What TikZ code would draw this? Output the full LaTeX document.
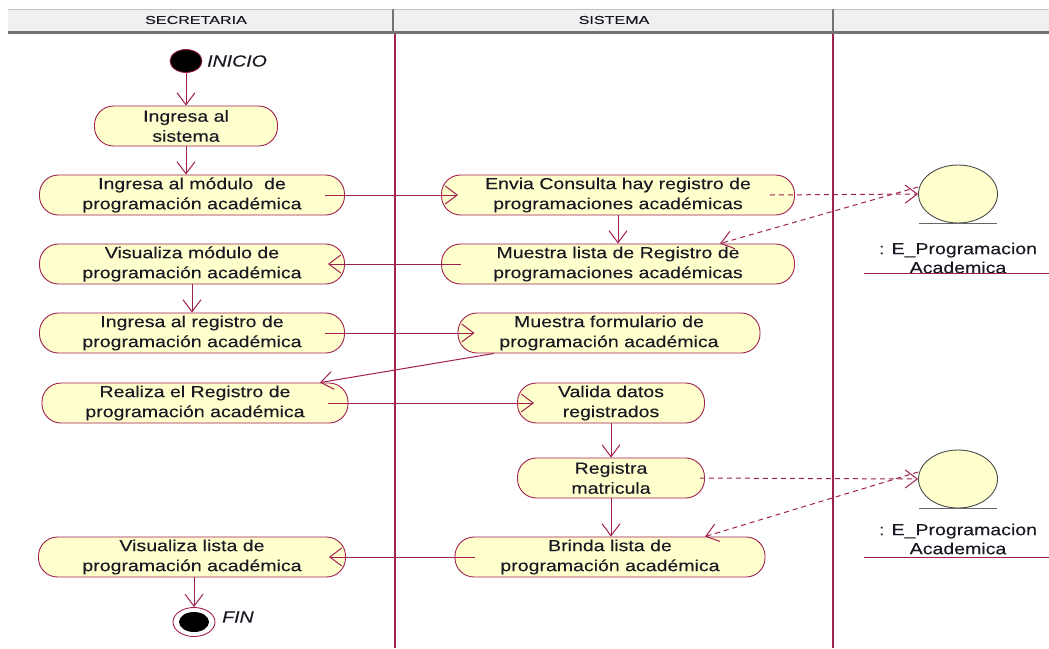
\documentclass[tikz,border=0pt]{standalone}
\usepackage{fontspec}
\setmainfont{Liberation Sans}
\newfontfamily\actfam[FakeStretch=1.22,FakeBold=0.15]{Liberation Sans}
\newfontfamily\hdrfam[FakeStretch=1.4,FakeBold=0.2]{Liberation Sans}
\usetikzlibrary{arrows.meta,shapes.geometric,calc}
\definecolor{lc}{RGB}{160,32,80}
\definecolor{yfill}{RGB}{255,255,206}
\definecolor{txt}{RGB}{25,25,35}
\definecolor{hdrfill}{RGB}{240,240,240}
\tikzset{
  act/.style={draw=lc, line width=0.9pt, fill=yfill, rounded corners=19pt,
    minimum height=40pt, inner sep=0pt, align=center, text=txt,
    font=\actfam\fontsize{16}{20}\selectfont},
  arr/.style={draw=lc, line width=1pt, -{Straight Barb[length=12pt,width=18pt,line width=1pt]}},
  harr/.style={arr, shorten >=-17pt},
  darr/.style={arr, dash pattern=on 5pt off 4pt},
  objc/.style={ellipse, draw=black!70, line width=0.9pt, fill=yfill, minimum width=79pt, minimum height=58pt, inner sep=0pt},
  objl/.style={align=center, text=txt, font=\actfam\fontsize{16}{19}\selectfont, inner sep=0pt},
  hdr/.style={font=\hdrfam\fontsize{11.5}{13}\selectfont, text=txt, inner sep=0pt},
  lbl/.style={font=\actfam\itshape\fontsize{16}{20}\selectfont, text=txt, inner sep=0pt, anchor=west},
}
\begin{document}
\begin{tikzpicture}[x=1pt,y=-1pt]
\useasboundingbox (0,0) rectangle (1049,648);
\fill[white] (0,0) rectangle (1049,648);
% header
\fill[hdrfill] (8,9) rectangle (1049,31);
\draw[black!25, line width=0.8pt] (8,9) -- (1049,9);
\draw[black!55, line width=1.5pt] (393,9) -- (393,31);
\draw[black!55, line width=1.5pt] (833,9) -- (833,31);
\draw[black!55, line width=3pt] (8,32) -- (1049,32);
\node[hdr] (h1) at (196,20) {SECRETARIA};
\node[hdr] (h2) at (614,20) {SISTEMA};
% lanes
\draw[lc, line width=1.2pt] (395,34) -- (395,648);
\draw[lc, line width=1.2pt] (833,34) -- (833,648);
% start / end
\node[ellipse, draw=lc, fill=black, line width=0.8pt, minimum width=32pt, minimum height=23pt, inner sep=0pt] (start) at (186,61) {};
\node[lbl] (startl) at (207,61) {INICIO};
\node[ellipse, draw=lc, fill=white, line width=0.9pt, minimum width=42pt, minimum height=29pt, inner sep=0pt] (fin) at (194,622) {};
\node[ellipse, fill=black, minimum width=30pt, minimum height=20pt, inner sep=0pt] (fini) at (194,622) {};
\node[lbl] (finl) at (222,617) {FIN};
% activities
\node[act, minimum width=183pt] (is) at (186,126) {Ingresa al\\sistema};
\node[act, minimum width=305pt] (im) at (192,195) {Ingresa al m\'odulo\ \ de\\programaci\'on acad\'emica};
\node[act, minimum width=353pt] (ec) at (618,195) {Envia Consulta hay registro de\\programaciones acad\'emicas};
\node[act, minimum width=353pt] (ml) at (618,264) {Muestra lista de Registro de\\programaciones acad\'emicas};
\node[act, minimum width=305pt] (vm) at (192,264) {Visualiza m\'odulo de\\programaci\'on acad\'emica};
\node[act, minimum width=305pt] (ir) at (192,333) {Ingresa al registro de\\programaci\'on acad\'emica};
\node[act, minimum width=302pt] (mf) at (609,333) {Muestra formulario de\\programaci\'on acad\'emica};
\node[act, minimum width=306pt] (rr) at (195,403) {Realiza el Registro de\\programaci\'on acad\'emica};
\node[act, minimum width=187pt] (vd) at (611,403) {Valida datos\\registrados};
\node[act, minimum width=187pt] (rm) at (611,478) {Registra\\matricula};
\node[act, minimum width=310pt] (bl) at (610,557) {Brinda lista de\\programaci\'on acad\'emica};
\node[act, minimum width=307pt] (vl) at (192,557) {Visualiza lista de\\programaci\'on acad\'emica};
% objects
\node[objc] (o1) at (958,194) {};
\draw[black!60, line width=1pt] ($(o1.south)+(-39,0)$) -- ($(o1.south)+(39,0)$);
\node[objl] (o1l) at (958,258) {: E\_Programacion\\Academica};
\draw[lc, line width=1pt] (864,273) -- (1049,273);
\node[objc] (o2) at (958,479) {};
\draw[black!60, line width=1pt] ($(o2.south)+(-39,0)$) -- ($(o2.south)+(39,0)$);
\node[objl] (o2l) at (958,539) {: E\_Programacion\\Academica};
\draw[lc, line width=1pt] (864,557) -- (1049,557);
% flows
\draw[arr] (start.south) -- (is.north);
\draw[arr] (is.south) -- (is.south |- im.north);
\draw[harr] ([xshift=-20pt]im.east) -- (ec.west);
\draw[arr] (ec.south) -- (ml.north);
\draw[harr] ([xshift=20pt]ml.west) -- (vm.east);
\draw[arr] (vm.south) -- (ir.north);
\draw[harr] ([xshift=-20pt]ir.east) -- (mf.west);
\draw[arr] ([xshift=-115pt]mf.south) -- ([xshift=125pt]rr.north);
\draw[harr] ([xshift=-20pt]rr.east) -- (vd.west);
\draw[arr] (vd.south) -- (rm.north);
\draw[arr] (rm.south) -- (rm.south |- bl.north);
\draw[harr] ([xshift=20pt]bl.west) -- (vl.east);
\draw[arr] (fin |- vl.south) -- (fin.north);
% object flows
\draw[darr] ([xshift=-25pt]ec.east) -- (o1.west);
\draw[darr] ([yshift=7pt]o1.west) -- ([xshift=102pt]ml.north);
\draw[darr] ([xshift=-5pt]rm.east) -- (o2.west);
\draw[darr] ([yshift=7pt]o2.west) -- ([xshift=95pt]bl.north);
\end{tikzpicture}
\end{document}
